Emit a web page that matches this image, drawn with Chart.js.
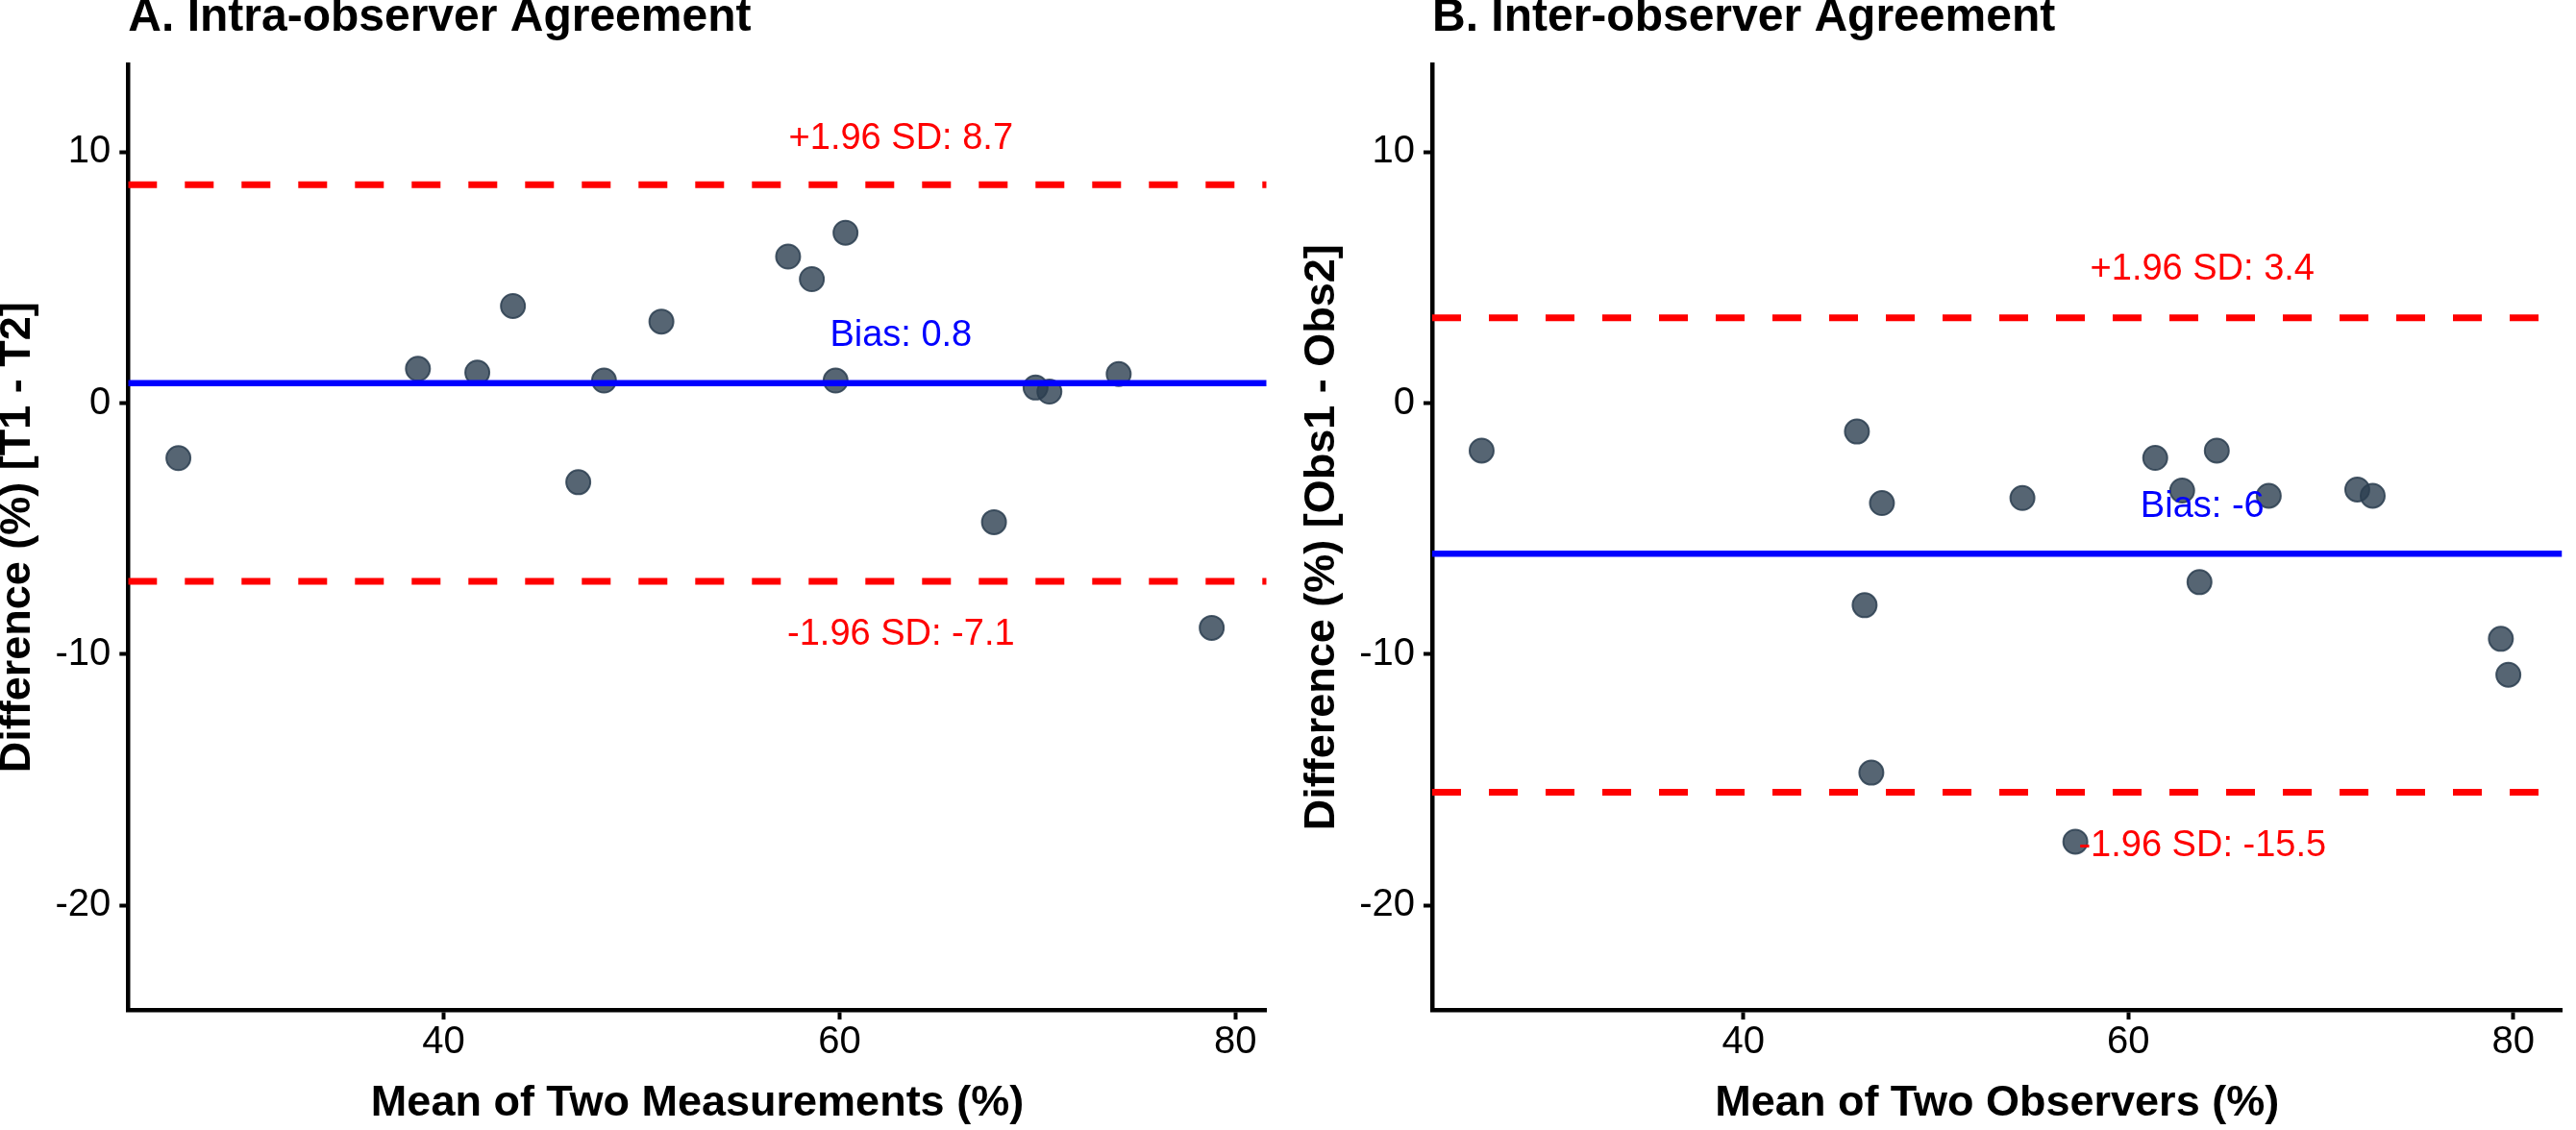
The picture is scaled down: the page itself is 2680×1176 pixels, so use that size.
<!DOCTYPE html>
<html lang="en">
  <head>
    <meta charset="utf-8" />
    <title>Bland-Altman Agreement</title>
    <style>
      * {
        margin: 0;
        padding: 0;
      }
      body {
        width: 2680px;
        height: 1176px;
        overflow: hidden;
        background: white;
      }
      .chartBox {
        position: absolute;
        top: 0;
        width: 1340px;
        height: 1176px;
      }
    </style>
  </head>
  <body>
    <div class="chartBox" style="left: 0">
      <canvas id="intraChart" width="1340" height="1176"></canvas>
    </div>
    <div class="chartBox" style="left: 1340px">
      <canvas id="interChart" width="1340" height="1176"></canvas>
    </div>
    <script src="https://cdn.jsdelivr.net/npm/chart.js/dist/chart.umd.min.js"></script>
    <script>
      // data - panel A (intra-observer)
      const intraMean = [26.6, 38.7, 41.7, 43.5, 46.8, 48.1, 51.0, 57.4, 58.6, 60.3, 59.8, 67.8, 69.9, 70.6, 74.1, 78.8];
      const intraDiff = [-2.19, 1.37, 1.22, 3.87, -3.15, 0.9, 3.25, 5.84, 4.94, 6.79, 0.9, -4.74, 0.62, 0.46, 1.16, -8.95];
      const intraLimits = [0.8, 8.7, -7.1]; // bias, upper, lower
      const intraLabels = ["Bias: 0.8", "+1.96 SD: 8.7", "-1.96 SD: -7.1"];
      const intraLabelX = 63.1;
      const intraLabelY = [2.69, 10.53, -9.24];

      // data - panel B (inter-observer)
      const interMean = [26.4, 45.9, 47.2, 54.5, 61.4, 64.6, 62.8, 67.3, 71.9, 72.7, 63.7, 46.3, 46.65, 57.25, 79.36, 79.75];
      const interDiff = [-1.89, -1.13, -3.98, -3.78, -2.18, -1.89, -3.48, -3.69, -3.44, -3.69, -7.13, -8.05, -14.72, -17.47, -9.39, -10.82];
      const interLimits = [-6, 3.4, -15.5];
      const interLabels = ["Bias: -6", "+1.96 SD: 3.4", "-1.96 SD: -15.5"];
      const interLabelX = 63.85;
      const interLabelY = [-4.13, 5.31, -17.64];

      // axes
      const xTicks = [40, 60, 80];
      const yTicks = [10, 0, -10, -20];
      const yRange = [-24.17, 13.48];

      const FONT = '"Liberation Sans", Arial, sans-serif';
      const limitColors = ["#0000FF", "#FF0000", "#FF0000"];

      // draws the bias / limit text through the chart scales
      const limitLabels = {
        id: "limitLabels",
        afterDatasetsDraw(chart, args, opts) {
          const { ctx } = chart;
          const x = chart.scales.x;
          const y = chart.scales.y;
          ctx.save();
          ctx.font = "38px " + FONT;
          ctx.textAlign = "center";
          ctx.textBaseline = "middle";
          opts.texts.forEach((t, i) => {
            ctx.fillStyle = limitColors[i];
            ctx.fillText(t, x.getPixelForValue(opts.x), y.getPixelForValue(opts.y[i]));
          });
          ctx.restore();
        },
      };

      function makeConfig(p) {
        const lines = p.limits.map((v, i) => ({
          data: [
            { x: p.xRange[0], y: v },
            { x: p.xRange[1], y: v },
          ],
          showLine: true,
          borderColor: limitColors[i],
          borderWidth: i === 0 ? 6.5 : 7,
          borderDash: i === 0 ? [] : [30, 29],
          pointRadius: 0,
        }));
        const points = {
          data: p.mean.map((m, i) => ({ x: m, y: p.diff[i] })),
          backgroundColor: "rgba(44, 62, 80, 0.8)",
          borderColor: "rgba(44, 62, 80, 0.85)",
          borderWidth: 2,
          pointRadius: 12.5,
        };
        return {
          type: "scatter",
          // lines listed first so they are drawn over the points
          data: { datasets: [...lines, points] },
          plugins: [limitLabels],
          options: {
            responsive: false,
            maintainAspectRatio: false,
            animation: false,
            devicePixelRatio: 1,
            layout: { padding: { left: 0, right: p.padRight, top: 0, bottom: 0 } },
            plugins: {
              legend: { display: false },
              tooltip: { enabled: false },
              title: {
                display: true,
                text: p.title,
                align: "start",
                fullSize: false,
                color: "#000",
                font: { family: FONT, size: 48, weight: "bold", lineHeight: 0.8 },
                padding: { top: 0, bottom: 29 },
              },
              limitLabels: { texts: p.labels, x: p.labelX, y: p.labelY },
            },
            scales: {
              x: {
                type: "linear",
                min: p.xRange[0],
                max: p.xRange[1],
                afterBuildTicks(scale) {
                  scale.ticks = xTicks.map((v) => ({ value: v }));
                },
                afterFit(scale) {
                  scale.height = 125;
                },
                grid: {
                  drawOnChartArea: false,
                  tickLength: 10,
                  tickWidth: 4,
                  tickColor: "#000",
                },
                border: { display: true, color: "#000", width: 4.5 },
                ticks: {
                  color: "#000",
                  padding: 0,
                  font: { family: FONT, size: 40, lineHeight: 1.2 },
                },
                title: {
                  display: true,
                  text: p.xTitle,
                  color: "#000",
                  font: { family: FONT, size: 45, weight: "bold", lineHeight: 1 },
                  padding: { top: 0, bottom: 5 },
                },
              },
              y: {
                type: "linear",
                min: yRange[0],
                max: yRange[1],
                afterBuildTicks(scale) {
                  scale.ticks = yTicks.map((v) => ({ value: v }));
                },
                afterFit(scale) {
                  scale.width = p.yWidth;
                },
                grid: {
                  drawOnChartArea: false,
                  tickLength: 9,
                  tickWidth: 4,
                  tickColor: "#000",
                },
                border: { display: true, color: "#000", width: 4.5 },
                ticks: {
                  color: "#000",
                  padding: 9,
                  font: { family: FONT, size: 40 },
                },
                title: {
                  display: true,
                  text: p.yTitle,
                  color: "#000",
                  font: { family: FONT, size: 45, weight: "bold", lineHeight: 0.8 },
                  padding: { top: p.yTitlePad, bottom: 0 },
                },
              },
            },
          },
        };
      }

      // render init block
      const intraChart = new Chart(
        document.getElementById("intraChart"),
        makeConfig({
          title: "A. Intra-observer Agreement",
          xTitle: "Mean of Two Measurements (%)",
          yTitle: "Difference (%) [T1 - T2]",
          mean: intraMean,
          diff: intraDiff,
          limits: intraLimits,
          labels: intraLabels,
          labelX: intraLabelX,
          labelY: intraLabelY,
          xRange: [24.06, 81.57],
          yWidth: 133.3,
          yTitlePad: 1,
          padRight: 22.3,
        })
      );

      const interChart = new Chart(
        document.getElementById("interChart"),
        makeConfig({
          title: "B. Inter-observer Agreement",
          xTitle: "Mean of Two Observers (%)",
          yTitle: "Difference (%) [Obs1 - Obs2]",
          mean: interMean,
          diff: interDiff,
          limits: interLimits,
          labels: interLabels,
          labelX: interLabelX,
          labelY: interLabelY,
          xRange: [23.83, 82.54],
          yWidth: 150,
          yTitlePad: 18,
          padRight: 6,
        })
      );
    </script>
  </body>
</html>
